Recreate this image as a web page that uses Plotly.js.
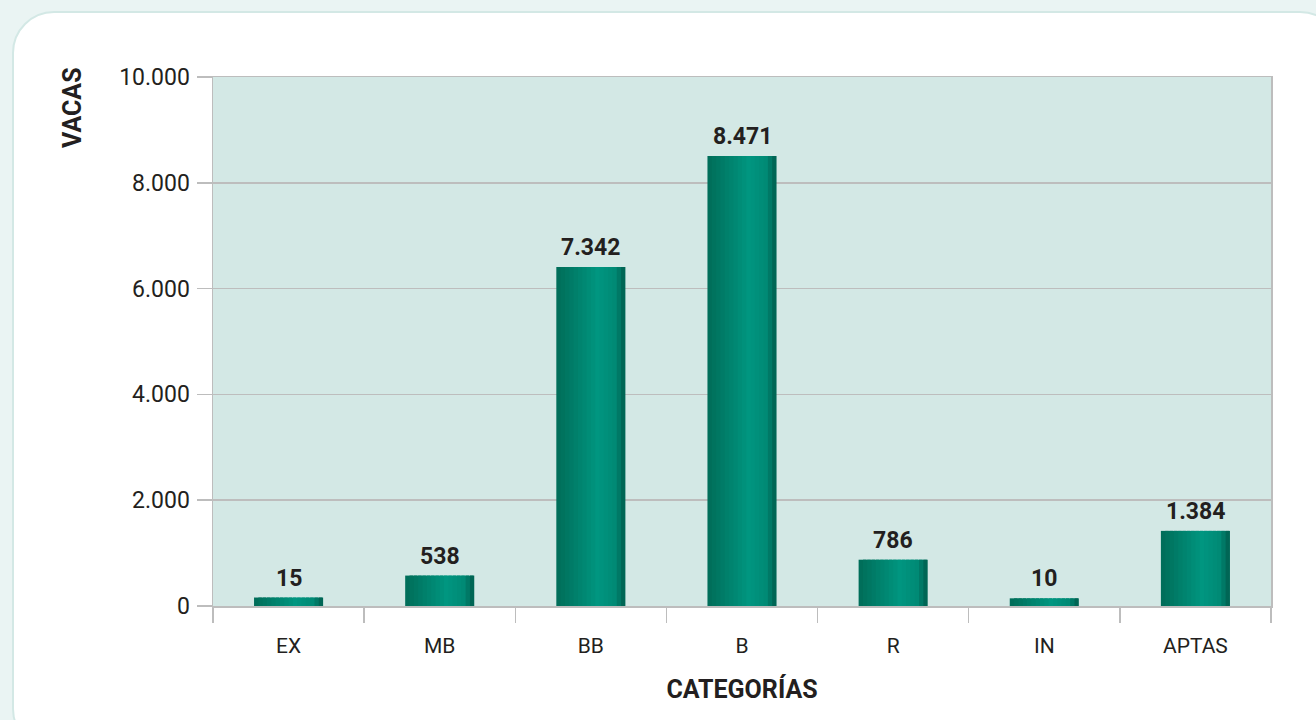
<!DOCTYPE html>
<html>
<head>
<meta charset="utf-8">
<script src="https://cdn.plot.ly/plotly-3.0.1.min.js"></script>
<style>
html,body{margin:0;padding:0;width:1316px;height:720px;overflow:hidden;background:#eaf4f3;}
#card{position:absolute;left:12px;top:11px;width:1330px;height:740px;background:#fff;border:2px solid #d3e8e5;border-radius:42px;box-sizing:border-box;}
#chart{position:absolute;left:0;top:0;width:1316px;height:720px;}
</style>
</head>
<body>
<div id="card"></div>
<div id="chart"></div>
<script>
const categories = ["EX", "MB", "BB", "B", "R", "IN", "APTAS"];
const barHeights = [160, 575, 6410, 8505, 875, 145, 1420];
const valueLabels = ["15", "538", "7.342", "8.471", "786", "10", "1.384"];
const yTickValues = [0, 2000, 4000, 6000, 8000, 10000];

const barWidth = 0.457;
const nStrips = 16;
const stops = [[0, [0,108,88]], [0.6, [0,150,128]], [0.85, [0,138,117]], [1, [0,92,76]]];
function colorAt(t){
  for (let i = 0; i < stops.length - 1; i++){
    const a = stops[i], b = stops[i+1];
    if (t >= a[0] && t <= b[0]){
      const f = (t - a[0]) / (b[0] - a[0]);
      const c = a[1].map((v, k) => Math.round(v + (b[1][k] - v) * f));
      return 'rgb(' + c.join(',') + ')';
    }
  }
  return 'rgb(0,92,76)';
}

const traces = [];
for (let i = 0; i < nStrips; i++){
  const w = barWidth / nStrips;
  traces.push({
    type: 'bar',
    x: categories,
    y: barHeights,
    width: (i < nStrips - 1) ? w * 1.8 : w,
    offset: -barWidth / 2 + i * w,
    marker: {color: colorAt((i + 0.5) / nStrips), line: {width: 0}},
    hoverinfo: 'skip',
    showlegend: false
  });
}

const annotations = categories.map((c, i) => ({
  x: c, y: barHeights[i], xref: 'x', yref: 'y',
  text: valueLabels[i], showarrow: false, yanchor: 'bottom', yshift: 4,
  font: {family: 'Roboto', size: 23, color: '#231f20', weight: 700}
}));
annotations.push({
  text: 'VACAS', xref: 'paper', yref: 'paper', x: -0.1323, y: 0.9414,
  textangle: -90, showarrow: false, xanchor: 'center', yanchor: 'middle',
  font: {family: 'Roboto', size: 25, color: '#231f20', weight: 700}
});

const layout = {
  width: 1316, height: 720,
  paper_bgcolor: 'rgba(0,0,0,0)',
  plot_bgcolor: '#d3e8e5',
  margin: {l: 213, r: 45, t: 77, b: 114},
  barmode: 'overlay',
  separators: ',.',
  showlegend: false,
  xaxis: {
    type: 'category',
    tickson: 'boundaries',
    ticks: 'outside', ticklen: 15, tickcolor: '#bdbdbd', tickwidth: 1.5,
    ticklabelstandoff: 20,
    showline: true, linecolor: '#bdbdbd', linewidth: 1.5, mirror: true,
    showgrid: false,
    tickfont: {family: 'Roboto', size: 21, color: '#231f20'},
    title: {text: 'CATEGORÍAS', standoff: 24, font: {family: 'Roboto', size: 25, color: '#231f20', weight: 700}}
  },
  yaxis: {
    range: [0, 10000],
    tickvals: yTickValues,
    tickformat: ',d',
    ticks: 'outside', ticklen: 15, tickcolor: '#bdbdbd', tickwidth: 1.5,
    ticklabelstandoff: 2,
    showline: true, linecolor: '#bdbdbd', linewidth: 1.5, mirror: true,
    showgrid: true, gridcolor: '#bdbdbd', gridwidth: 1.5,
    zeroline: false,
    tickfont: {family: 'Roboto', size: 23, color: '#231f20'}
  },
  annotations: annotations
};

Plotly.newPlot('chart', traces, layout, {displayModeBar: false, staticPlot: true});
</script>
</body>
</html>
